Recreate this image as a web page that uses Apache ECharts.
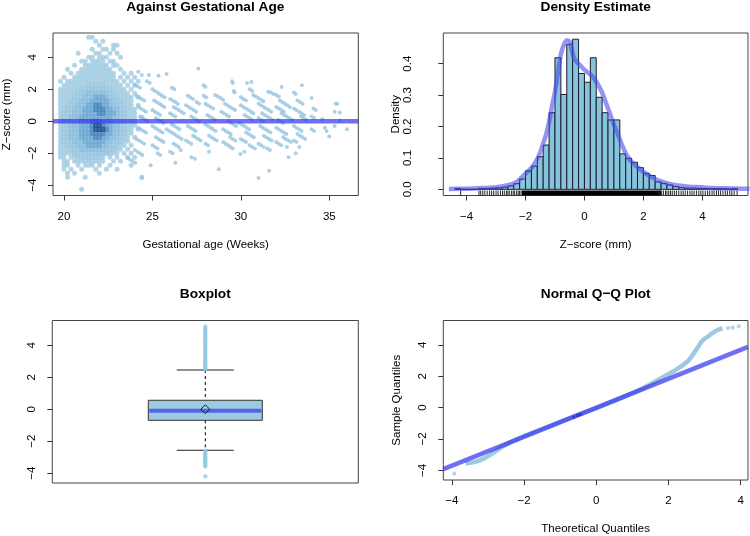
<!DOCTYPE html>
<html><head><meta charset="utf-8">
<script src="https://cdn.jsdelivr.net/npm/echarts@6/dist/echarts.min.js"></script>
<style>html,body{margin:0;padding:0;background:#fff}#c{width:750px;height:536px}</style>
</head><body><div id="c"></div>
<script>
// ---------------- Panel 1: Z-score against gestational age ----------------
const p1XRange = [19.38, 36.64];
const p1YRange = [-4.64, 5.52];
const p1XTicks = [20, 25, 30, 35];
const zTicks = [-4, -2, 0, 2, 4];
const refZ = 0;
// dense cloud read as a density grid (columns: weeks from 19.6 step 0.2; rows: z from 5.25 step -0.25)
const blobX0 = 19.6, blobDX = 0.2, blobY0 = 5.25, blobDY = 0.25;
const blobRows = [
".........11..............",
"...........1.1...........",
"............1...11.......",
"..........1..11.1........",
"......1....11..1.1.......",
".........11.111...1......",
".......11.1111.11........",
".....1..1111111.11.......",
"...1...111111111..1......",
"....1.11111111111..1.1...",
"..1..111111111111.1.1.1..",
".1.111111111111111.1.1.1.",
"..11111112222211111.1.1..",
".1111112222222221111.1...",
".11111222333332221111.1..",
".111122233344432221111.1.",
".111222333444443222111...",
".112223334455443322111.1.",
".1122333444555443322111..",
".1222333444455444322111..",
".1223334444444443322111.1",
".1223334445554443322111..",
".1223334445665443322111..",
".122333444566654332211.1.",
".122333444555544332211...",
".12233344445544332211.1..",
".12223334444443322211....",
".1122233344443322211.1...",
".111222333333322211.1....",
".11112222222222211.1.1...",
".11.1112222221.1.1..1.1..",
"..11.111111111..1.1......",
"..11..1.111.1..1.....1...",
"..1.1..1...1..1..1.......",
"...1.1......1............",
"...1....1...............1",
".........................",
".........................",
".......1................."
];
const sparsePts = [
[24.0,2.3],[24.14,2.2],[24.29,2.1],[24.2,3.1],[24.4,2.9],
[24.1,1.6],[24.24,1.5],[24.39,1.4],[24.53,1.3],
[24.2,0.9],[24.34,0.8],[24.49,0.7],[24.63,0.6],
[24.3,0.3],[24.44,0.2],[24.59,0.1],[24.73,0.0],
[24.2,-0.4],[24.34,-0.5],[24.49,-0.6],[24.63,-0.7],
[24.1,-1.1],[24.24,-1.2],[24.39,-1.3],[24.53,-1.4],
[24.0,-1.8],[24.14,-1.9],[24.29,-2.0],[24.43,-2.1],
[23.6,-2.3],[23.74,-2.4],[23.89,-2.5],[24.03,-2.6],
[24.4,-3.55],
[24.8,2.9],[25.35,2.85],[25.8,2.95],[24.7,2.5],[24.85,2.4],
[25.0,2.0],[25.14,1.9],[25.29,1.8],
[25.4,1.7],[25.54,1.6],[25.69,1.5],
[25.1,1.3],[25.24,1.2],[25.39,1.1],[25.53,1.0],[25.67,0.9],
[25.0,0.7],[25.14,0.6],[25.29,0.5],[25.43,0.4],
[25.2,0.2],[25.34,0.1],[25.49,0.0],[25.63,-0.1],
[25.0,-0.3],[25.14,-0.4],[25.29,-0.5],[25.43,-0.6],[25.57,-0.7],
[25.2,-1.0],[25.34,-1.1],[25.49,-1.2],[25.63,-1.3],
[25.0,-1.5],[25.14,-1.6],[25.29,-1.7],
[25.3,-2.0],[25.44,-2.1],
[24.9,-2.75],
[26.1,2.1],[26.24,2.0],
[26.0,1.4],[26.14,1.3],[26.29,1.2],[26.43,1.1],
[26.2,0.9],[26.34,0.8],[26.49,0.7],[26.63,0.6],[26.77,0.5],
[26.0,0.5],[26.14,0.4],[26.29,0.3],
[26.1,-0.2],[26.24,-0.3],[26.39,-0.4],[26.53,-0.5],
[25.8,-0.5],[25.94,-0.6],[26.09,-0.7],[26.23,-0.8],[26.37,-0.9],[26.51,-1.0],[26.65,-1.1],
[26.2,-1.4],[26.34,-1.5],[26.49,-1.6],
[26.0,-1.9],[26.14,-2.0],
[26.6,-1.8],[26.3,-2.6],
[27.6,3.3],
[27.0,1.6],[27.14,1.5],[27.29,1.4],
[26.9,1.0],[27.04,0.9],[27.19,0.8],[27.33,0.7],[27.47,0.6],
[27.5,1.2],[27.64,1.1],
[27.2,0.3],[27.34,0.2],[27.49,0.1],[27.63,0.0],
[27.0,-0.3],[27.14,-0.4],[27.29,-0.5],[27.43,-0.6],
[27.3,-0.9],[27.44,-1.0],[27.59,-1.1],[27.73,-1.2],
[26.9,-1.2],[27.04,-1.3],[27.19,-1.4],
[27.2,-2.25],[27.4,-2.35],
[27.9,2.25],[28.0,2.15],
[27.9,1.6],[28.04,1.5],
[28.0,1.1],[28.14,1.0],[28.29,0.9],[28.43,0.8],
[28.55,1.65],[28.7,1.55],[28.85,1.45],[29.0,1.35],
[28.1,0.4],[28.24,0.3],[28.39,0.2],[28.53,0.1],
[28.0,-0.2],[28.14,-0.3],[28.29,-0.4],[28.43,-0.5],[28.57,-0.6],
[28.2,-0.9],[28.34,-1.0],[28.49,-1.1],[28.63,-1.2],
[28.0,-1.4],[28.14,-1.5],
[28.2,-1.9],[28.75,-3.0],
[29.5,2.5],[29.55,2.4],[29.6,1.9],[29.65,1.8],
[29.1,1.1],[29.24,1.0],[29.39,0.9],[29.53,0.8],[29.67,0.7],
[28.9,0.6],[29.04,0.5],[29.19,0.4],[29.33,0.3],
[29.3,0.0],[29.44,-0.1],[29.59,-0.2],[29.73,-0.3],
[29.0,-0.5],[29.14,-0.6],[29.29,-0.7],[29.43,-0.8],
[29.4,-1.0],[29.54,-1.1],[29.69,-1.2],
[29.0,-1.3],[29.14,-1.4],[29.29,-1.5],
[29.4,-1.6],[29.54,-1.7],
[29.97,-2.04],
[30.35,2.4],[30.6,2.45],[30.5,2.0],[30.64,1.9],
[30.0,1.5],[30.14,1.4],[30.29,1.3],
[30.7,1.65],[30.84,1.55],[30.99,1.45],[31.13,1.35],[31.27,1.25],
[30.0,1.0],[30.14,0.9],[30.29,0.8],[30.43,0.7],[30.57,0.6],[30.71,0.5],
[30.2,0.4],[30.34,0.3],[30.49,0.2],[30.63,0.1],
[29.9,-0.1],[30.04,-0.2],[30.19,-0.3],[30.33,-0.4],[30.47,-0.5],
[30.3,-0.7],[30.44,-0.8],[30.59,-0.9],[30.73,-1.0],
[30.0,-1.1],[30.14,-1.2],[30.29,-1.3],
[30.5,-1.5],[30.64,-1.6],[30.79,-1.7],
[30.2,-1.9],
[31.55,1.85],[31.7,1.8],[31.85,1.7],[32.0,1.65],[32.15,1.55],
[31.0,1.1],[31.14,1.0],[31.29,0.9],[31.43,0.8],[31.57,0.7],[31.71,0.6],
[31.2,0.5],[31.34,0.4],[31.49,0.3],[31.63,0.2],[31.77,0.1],
[31.0,0.2],[31.14,0.1],[31.29,0.0],
[31.1,-0.3],[31.24,-0.4],[31.39,-0.5],[31.53,-0.6],[31.67,-0.7],
[31.3,-0.9],[31.44,-1.0],[31.59,-1.1],[31.73,-1.2],
[31.0,-1.4],[31.14,-1.5],[31.29,-1.6],
[31.5,-1.7],[31.64,-1.8],
[31.0,-3.55],[31.6,-3.1],
[32.3,2.15],
[32.2,1.3],[32.34,1.2],[32.49,1.1],[32.63,1.0],[32.77,0.9],
[32.0,0.9],[32.14,0.8],[32.29,0.7],[32.43,0.6],
[32.3,0.5],[32.44,0.4],[32.59,0.3],[32.73,0.2],[32.87,0.1],
[32.1,0.1],[32.24,0.0],[32.39,-0.1],
[32.0,-0.4],[32.14,-0.5],[32.29,-0.6],[32.43,-0.7],[32.57,-0.8],
[32.4,-1.0],[32.54,-1.1],[32.69,-1.2],[32.83,-1.3],
[32.0,-1.3],[32.14,-1.4],[32.29,-1.5],
[32.6,-1.6],[32.7,-2.25],[33.1,-2.0],
[33.45,2.25],[33.0,1.8],[33.1,1.7],
[33.2,1.3],[33.34,1.2],[33.49,1.1],
[33.0,0.8],[33.14,0.7],[33.29,0.6],[33.43,0.5],[33.57,0.4],
[33.4,0.3],[33.54,0.2],[33.69,0.1],
[33.0,-0.3],[33.14,-0.4],[33.29,-0.5],[33.43,-0.6],
[33.2,-0.8],[33.34,-0.9],[33.49,-1.0],[33.63,-1.1],
[33.0,-1.2],[33.14,-1.3],[33.3,-1.6],
[34.0,1.45],[34.1,0.8],[34.24,0.7],[34.0,0.3],[34.14,0.2],
[34.0,-0.5],[34.14,-0.6],[34.6,0.15],
[34.75,-0.4],[34.85,-0.6],[35.0,-0.95],
[35.35,1.1],[35.45,1.1],[35.3,0.6],[35.6,0.55],
[35.6,0.05],[35.3,-0.3],[36.0,-0.5]
];

// ---------------- Panel 2: density estimate ----------------
const p2XRange = [-4.79, 5.55];
const p2YRange = [-0.0197, 0.4978];
const p2XTicks = [-4, -2, 0, 2, 4];
const p2YTicks = [0, 0.1, 0.2, 0.3, 0.4];
const binWidth = 0.2;
const binStarts = [-4.4,-4.2,-4.0,-3.8,-3.6,-3.4,-3.2,-3.0,-2.8,-2.6,-2.4,-2.2,-2.0,-1.8,-1.6,-1.4,-1.2,-1.0,-0.8,-0.6,-0.4,-0.2,0.0,0.2,0.4,0.6,0.8,1.0,1.2,1.4,1.6,1.8,2.0,2.2,2.4,2.6,2.8,3.0,3.2,3.4,3.6,3.8,4.0,4.2,4.4,4.6,4.8,5.0];
const binDensity = [0.0025,0,0,0,0.0025,0.003,0.004,0.005,0.007,0.011,0.018,0.033,0.059,0.074,0.104,0.141,0.244,0.419,0.302,0.462,0.478,0.369,0.341,0.419,0.293,0.244,0.221,0.221,0.113,0.099,0.086,0.069,0.051,0.044,0.024,0.019,0.014,0.009,0.006,0.004,0.004,0.003,0.003,0.002,0.002,0.002,0.001,0.002];
const densX = [-4.6,-4.0,-3.5,-3.0,-2.6,-2.3,-2.0,-1.8,-1.65,-1.5,-1.4,-1.3,-1.2,-1.1,-1.0,-0.9,-0.8,-0.7,-0.6,-0.5,-0.42,-0.34,-0.2,-0.05,0.1,0.25,0.42,0.59,0.75,0.87,1.0,1.15,1.3,1.45,1.6,1.75,2.0,2.3,2.6,3.0,3.4,3.8,4.3,4.8,5.3,5.6];
const densY = [0.001,0.002,0.004,0.007,0.013,0.024,0.05,0.068,0.088,0.118,0.146,0.175,0.215,0.265,0.31,0.37,0.43,0.46,0.475,0.47,0.44,0.415,0.4,0.385,0.373,0.362,0.34,0.31,0.27,0.24,0.205,0.172,0.135,0.106,0.088,0.075,0.056,0.038,0.025,0.015,0.01,0.007,0.004,0.003,0.002,0.0015];
const rugBand = [-2.12, 2.6];
const lowerTail = [-2.15,-2.2,-2.25,-2.3,-2.37,-2.42,-2.48,-2.55,-2.6,-2.65,-2.72,-2.78,-2.85,-2.93,-3.0,-3.08,-3.15,-3.22,-3.3,-3.38,-3.45,-3.52,-3.58,-4.2];
const upperTail = [2.5,2.56,2.62,2.68,2.75,2.8,2.86,2.92,2.98,3.05,3.12,3.2,3.28,3.35,3.42,3.5,3.58,3.65,3.72,3.8,3.88,3.95,4.02,4.1,4.18,4.25,4.33,4.4,4.48,4.55,4.62,4.7,4.78,4.85,4.93,5.0,5.08,5.18];

// ---------------- Panel 3: boxplot ----------------
const p3YRange = [-4.61, 5.55];
const boxLo = -2.5625, boxQ1 = -0.69, boxMed = -0.0875, boxQ3 = 0.5625, boxHi = 2.456, boxMean = 0.0;

// ---------------- Panel 4: normal Q-Q ----------------
const p4XRange = [-4.235, 4.205];
const p4YRange = [-4.61, 5.55];
const qqTheo = [-3.62,-3.5,-3.38,-3.25,-3.12,-3.0,-2.88,-2.75,-2.6,-2.4,-2.2,-2.0,-1.5,-1.0,-0.5,0,0.5,1.0,1.2,1.4,1.6,1.8,2.0,2.2,2.4,2.55,2.65,2.72,2.79,2.86,2.93,3.02,3.11,3.22,3.32,3.42,3.5];
const qqSample = [-3.56,-3.52,-3.47,-3.38,-3.25,-3.1,-2.93,-2.72,-2.5,-2.24,-2.02,-1.82,-1.36,-0.9,-0.46,-0.04,0.43,0.92,1.13,1.37,1.62,1.88,2.13,2.4,2.7,2.98,3.28,3.52,3.74,4.0,4.25,4.42,4.56,4.75,4.9,5.0,5.04];
const qqIsoTheo = [-3.93, 3.65, 3.78, 3.95];
const qqIsoSample = [-4.21, 5.07, 5.1, 5.17];
const qqDarkTheo = [-0.62, -0.52, -0.44];
const qqDarkSample = [-0.6, -0.5, -0.43];
const qqLineX = [-4.235, 4.205];
const qqLineY = [-3.92, 3.87];

// ---------------- styling & build ----------------
const FONT = '"Liberation Sans", Arial, Helvetica, sans-serif';
const BLUE_LINE = 'rgba(55,55,240,0.72)';
const PT = '#97c6e0';
const levelColors = {'1':'#9ecae1','2':'#97c6e0','3':'#88bddd','4':'#6ba7d3','5':'#4384c0','6':'#1d4f8c'};
const minus = v => (v < 0 ? '\u2212' + String(Math.abs(v)) : String(v));

const grids = [
  {left:52.3, top:33, width:306, height:162.5},
  {left:443.3, top:33, width:304.7, height:162.5},
  {left:52.3, top:320.5, width:306, height:162.5},
  {left:443.3, top:320.5, width:304.7, height:162.5}
].map(g => Object.assign({show:true, borderColor:'#444', borderWidth:1, backgroundColor:'transparent'}, g));

function xAx(gi, range, ticks, name, fmt) {
  return {type:'value', gridIndex:gi, min:range[0], max:range[1],
    splitLine:{show:false}, axisLine:{show:false, onZero:false},
    axisTick:{show:true, length:5, inside:false, lineStyle:{color:'#333', width:1}, customValues:ticks},
    axisLabel:{show:true, customValues:ticks, margin:15, fontSize:11.5, fontFamily:FONT, color:'#000', formatter:fmt || minus},
    name:name, nameLocation:'middle', nameGap:43,
    nameTextStyle:{fontSize:11.5, fontFamily:FONT, color:'#000'}};
}
function yAx(gi, range, ticks, name, margin, fmt) {
  return {type:'value', gridIndex:gi, min:range[0], max:range[1],
    splitLine:{show:false}, axisLine:{show:false, onZero:false},
    axisTick:{show:true, length:5, inside:false, lineStyle:{color:'#333', width:1}, customValues:ticks},
    axisLabel:{show:true, customValues:ticks, rotate:90, margin:margin, fontSize:11.5, fontFamily:FONT, color:'#000', formatter:fmt || minus},
    name:name, nameLocation:'middle', nameGap:40, nameRotate:90,
    nameTextStyle:{fontSize:11.5, fontFamily:FONT, color:'#000'}};
}

// panel 1 series
const blobByLevel = {};
blobRows.forEach((row, r) => {
  for (let c = 0; c < row.length; c++) {
    const ch = row[c];
    if (ch === '.') continue;
    (blobByLevel[ch] = blobByLevel[ch] || []).push([blobX0 + c * blobDX, blobY0 - r * blobDY]);
  }
});
const series = [];
['1','2','3','4','5','6'].forEach(l => {
  if (!blobByLevel[l]) return;
  series.push({type:'scatter', xAxisIndex:0, yAxisIndex:0, data:blobByLevel[l], symbolSize:l === '1' ? 5 : 5.6,
    itemStyle:{color:levelColors[l]}, silent:true, z:2});
});
series.push({type:'scatter', xAxisIndex:0, yAxisIndex:0, data:sparsePts, symbolSize:4, itemStyle:{color:PT}, silent:true, z:2});
series.push({type:'line', xAxisIndex:0, yAxisIndex:0, data:[[p1XRange[0], refZ],[p1XRange[1], refZ]],
  showSymbol:false, lineStyle:{color:BLUE_LINE, width:4.5}, silent:true, z:3});

// panel 2 series
series.push({type:'custom', xAxisIndex:1, yAxisIndex:1, coordinateSystem:'cartesian2d', silent:true, z:2,
  data: binStarts.map((b, i) => [b, b + binWidth, binDensity[i]]),
  encode:{x:[0,1], y:2},
  renderItem:(params, api) => {
    const a = api.coord([api.value(0), api.value(2)]);
    const b = api.coord([api.value(1), 0]);
    return {type:'rect', shape:{x:a[0], y:a[1], width:b[0]-a[0], height:b[1]-a[1]},
      style:{fill:'#86c3dc', stroke:'#1c1c2c', lineWidth:1}};
  }});
series.push({type:'custom', xAxisIndex:1, yAxisIndex:1, coordinateSystem:'cartesian2d', silent:true, z:2,
  data: [[rugBand[0], rugBand[1]]],
  renderItem:(params, api) => {
    const cs = params.coordSys; const bot = cs.y + cs.height;
    const x0 = api.coord([api.value(0), 0])[0], x1 = api.coord([api.value(1), 0])[0];
    return {type:'rect', shape:{x:x0, y:bot-5, width:x1-x0, height:5}, style:{fill:'#000'}};
  }});
series.push({type:'custom', xAxisIndex:1, yAxisIndex:1, coordinateSystem:'cartesian2d', silent:true, z:2,
  data: lowerTail.concat(upperTail).map(v => [v, 0]),
  renderItem:(params, api) => {
    const cs = params.coordSys; const bot = cs.y + cs.height;
    const x = api.coord([api.value(0), 0])[0];
    return {type:'line', shape:{x1:x, y1:bot, x2:x, y2:bot-5}, style:{stroke:'#222', lineWidth:1}};
  }});
series.push({type:'line', xAxisIndex:1, yAxisIndex:1, data:densX.map((x,i)=>[x, densY[i]]), smooth:0.25,
  showSymbol:false, lineStyle:{color:'rgba(70,70,235,0.58)', width:4.5}, silent:true, z:4});

// panel 3 series
series.push({type:'custom', xAxisIndex:2, yAxisIndex:2, coordinateSystem:'cartesian2d', silent:true, z:2,
  data:[[0.5, boxLo, boxQ1, boxMed, boxQ3, boxHi]],
  renderItem:(params, api) => {
    const x = api.value(0), lo = api.value(1), q1 = api.value(2), md = api.value(3), q3 = api.value(4), hi = api.value(5);
    const bw = 0.1863, cw = 0.0931;
    const tl = api.coord([x-bw, q3]), br = api.coord([x+bw, q1]);
    const mL = api.coord([x-bw, md]), mR = api.coord([x+bw, md]);
    const pHi = api.coord([x, hi]), pQ3 = api.coord([x, q3]), pQ1 = api.coord([x, q1]), pLo = api.coord([x, lo]);
    const cTL = api.coord([x-cw, hi]), cTR = api.coord([x+cw, hi]), cBL = api.coord([x-cw, lo]), cBR = api.coord([x+cw, lo]);
    const dash = {stroke:'#000', lineWidth:1, lineDash:[3,3]};
    const solid = {stroke:'#222', lineWidth:1};
    return {type:'group', children:[
      {type:'line', shape:{x1:pHi[0], y1:pHi[1], x2:pQ3[0], y2:pQ3[1]}, style:dash},
      {type:'line', shape:{x1:pQ1[0], y1:pQ1[1], x2:pLo[0], y2:pLo[1]}, style:dash},
      {type:'line', shape:{x1:cTL[0], y1:cTL[1], x2:cTR[0], y2:cTR[1]}, style:solid},
      {type:'line', shape:{x1:cBL[0], y1:cBL[1], x2:cBR[0], y2:cBR[1]}, style:solid},
      {type:'rect', shape:{x:tl[0], y:tl[1], width:br[0]-tl[0], height:br[1]-tl[1]}, style:{fill:'#9ecae1', stroke:'#333', lineWidth:1}},
      {type:'line', shape:{x1:mL[0]+1, y1:mL[1], x2:mR[0]-1, y2:mR[1]}, style:{stroke:'rgba(65,85,235,0.85)', lineWidth:4}}
    ]};
  }});
const outliers = lowerTail.filter(v => v < boxLo).concat(upperTail.filter(v => v > boxHi));
series.push({type:'scatter', xAxisIndex:2, yAxisIndex:2, data:outliers.map(v => [0.5, v]), symbolSize:4.2,
  itemStyle:{color:'#92cbe4'}, silent:true, z:3});
series.push({type:'scatter', xAxisIndex:2, yAxisIndex:2, data:[[0.5, boxMean]], symbol:'diamond', symbolSize:9,
  itemStyle:{color:'rgba(0,0,0,0)', borderColor:'#000', borderWidth:1}, silent:true, z:4});

// panel 4 series
series.push({type:'line', xAxisIndex:3, yAxisIndex:3, data:qqTheo.map((t,i)=>[t, qqSample[i]]), showSymbol:false,
  lineStyle:{color:'#9ecae1', width:4.5}, silent:true, z:2});
series.push({type:'scatter', xAxisIndex:3, yAxisIndex:3, data:qqIsoTheo.map((t,i)=>[t, qqIsoSample[i]]), symbolSize:4.2,
  itemStyle:{color:'#9ecae1'}, silent:true, z:2});
series.push({type:'scatter', xAxisIndex:3, yAxisIndex:3, data:qqDarkTheo.map((t,i)=>[t, qqDarkSample[i]]), symbolSize:3.5,
  itemStyle:{color:'#0b2f66'}, silent:true, z:2});
series.push({type:'line', xAxisIndex:3, yAxisIndex:3, data:qqLineX.map((x,i)=>[x, qqLineY[i]]), showSymbol:false,
  lineStyle:{color:BLUE_LINE, width:4.5}, silent:true, z:3});

const titleStyle = {fontSize:13.7, fontWeight:'bold', fontFamily:FONT, color:'#000'};
const option = {
  animation:false,
  backgroundColor:'#fff',
  title:[
    {text:'Against Gestational Age', left:205.3, top:0, textAlign:'center', padding:0, textStyle:titleStyle},
    {text:'Density Estimate', left:595.7, top:0, textAlign:'center', padding:0, textStyle:titleStyle},
    {text:'Boxplot', left:205.3, top:287, textAlign:'center', padding:0, textStyle:titleStyle},
    {text:'Normal Q\u2212Q Plot', left:595.7, top:287, textAlign:'center', padding:0, textStyle:titleStyle}
  ],
  grid: grids,
  xAxis:[
    xAx(0, p1XRange, p1XTicks, 'Gestational age (Weeks)'),
    xAx(1, p2XRange, p2XTicks, 'Z\u2212score (mm)'),
    Object.assign(xAx(2, [0, 1], [], ''), {show:false}),
    xAx(3, p4XRange, p2XTicks, 'Theoretical Quantiles')
  ],
  yAxis:[
    yAx(0, p1YRange, zTicks, 'Z\u2212score (mm)', 14),
    yAx(1, p2YRange, p2YTicks, 'Density', 29, v => v.toFixed(1)),
    yAx(2, p3YRange, zTicks, '', 14),
    yAx(3, p4YRange, zTicks, 'Sample Quantiles', 14)
  ],
  series: series
};
const chart = echarts.init(document.getElementById('c'), null, {renderer:'canvas'});
chart.setOption(option);
</script>
</body></html>
